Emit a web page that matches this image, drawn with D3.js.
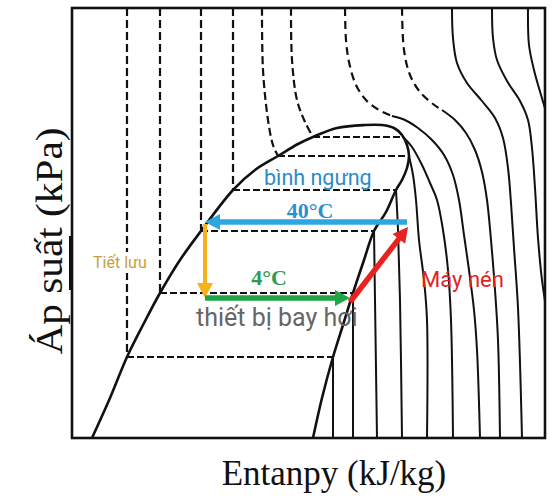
<!DOCTYPE html>
<html><head><meta charset="utf-8">
<script src="https://cdn.jsdelivr.net/npm/d3@7"></script>
<style>html,body{margin:0;padding:0;background:#fff;} svg{display:block}</style>
</head><body><svg id="c" width="552" height="504"></svg>
<script>
// ---- data (relative enthalpy units, relative pressure units) ----
const hDomain = [0, 473];
const pDomain = [0, 430];

const domeLiquid = [[20,0],[38,40],[55,81],[71,113],[88,145],[108,178],[129,207],[161,248],[183,268],[206,282],[226,294],[241,301],[265,310],[293,313],[310,313]];
const domeVapor  = [[310,313],[322,310],[330,303],[335,293],[337,282],[335,270],[330,258],[324,248],[314,226],[302,207],[292,178],[281,145],[271,113],[261,81],[250,40],[241,0]];

// subcooled-liquid part of isotherms (dashed)
const isoLiquid = [
  [[55,430],[55,81]],
  [[88,430],[88,145]],
  [[129,430],[129,207]],
  [[161,430],[161,248]],
  [[190,430],[191,368],[196,318],[201,293],[206,282]],
  [[219,430],[220,378],[225,338],[233,316],[241,301]]
];
// two-phase part of isotherms: [hLiquid, hVapor, p]
const isoTwoPhase = [[55,261,81],[88,281,145],[129,302,207],[161,324,248],[206,337,282],[241,331,301]];
// superheated part (solid)
const isoVapor = [
  [[261,81],[261,0]],
  [[281,145],[281,0]],
  [[302,207],[303,138],[305,0]],
  [[324,248],[326,208],[328,138],[330,0]],
  [[337,282],[341,263],[344,238],[347,198],[352,158],[355,118],[355,0]],
  [[331,301],[340,291],[350,273],[358,255],[365,238],[371,208],[376,168],[379,118],[381,0]]
];
// supercritical isotherms: dashed part then solid part
const isoSuperDashed = [
  [[273,430],[274,398],[277,376],[284,353],[294,338],[307,328],[320,322]],
  [[330,430],[332,388],[338,363],[348,346],[361,334],[370,328]]
];
const isoSuperSolid = [
  [[320,322],[333,318],[346,310],[360,298],[372,283],[381,263],[387,238],[392,203],[397,168],[402,128],[405,88],[408,0]],
  [[370,328],[383,318],[394,305],[403,288],[410,266],[415,238],[419,198],[423,148],[426,98],[428,0]],
  [[380,430],[381,400],[385,375],[395,355],[410,337],[423,320],[431,300],[436,270],[439,235],[442,190],[446,130],[450,0]],
  [[420,430],[421,400],[425,378],[435,357],[448,337],[456,318],[460,290],[463,250],[466,200],[470,158],[476,118]],
  [[456,430],[457,393],[462,368],[469,343],[476,320]]
];

// refrigeration cycle
const cycleFrom  = [[335,216],[133,214],[133,140],[278,136]];
const cycleTo    = [[133,216],[133,140],[278,140],[336,211]];
const cycleColor = ["#2ea6df","#f5b21c","#1fa548","#e8231f"];

const titleX = "Entanpy (kJ/kg)";
const titleY = "Áp suất (kPa)";
const labelTexts = ["bình ngưng","40°C","4°C","thiết bị bay hơi","Tiết lưu","Máy nén"];

// ---- drawing ----
const svg = d3.select("#c");
const x = d3.scaleLinear().domain(hDomain).range([72,545]);
const y = d3.scaleLinear().domain(pDomain).range([438,8]);

svg.append("defs").append("clipPath").attr("id","clip")
  .append("rect").attr("x",72).attr("y",8).attr("width",473).attr("height",430);

const g = svg.append("g").attr("clip-path","url(#clip)");
const curve = d3.line().x(d=>x(d[0])).y(d=>y(d[1])).curve(d3.curveCatmullRom.alpha(0.5));
const straight = d3.line().x(d=>x(d[0])).y(d=>y(d[1]));

isoLiquid.forEach(pts=>{
  g.append("path").attr("d", pts.length>2?curve(pts):straight(pts))
   .attr("fill","none").attr("stroke","#111").attr("stroke-width",2.2).attr("stroke-dasharray","8,4");
});
isoTwoPhase.forEach(d=>{
  g.append("path").attr("d", straight([[d[0],d[2]],[d[1],d[2]]]))
   .attr("fill","none").attr("stroke","#111").attr("stroke-width",2.2).attr("stroke-dasharray","7,3");
});
isoVapor.forEach(pts=>{
  g.append("path").attr("d", pts.length>2?curve(pts):straight(pts))
   .attr("fill","none").attr("stroke","#111").attr("stroke-width",2);
});
isoSuperDashed.forEach(pts=>{
  g.append("path").attr("d", curve(pts))
   .attr("fill","none").attr("stroke","#111").attr("stroke-width",2.2).attr("stroke-dasharray","8,5");
});
isoSuperSolid.forEach(pts=>{
  g.append("path").attr("d", curve(pts))
   .attr("fill","none").attr("stroke","#111").attr("stroke-width",2);
});
// dome
g.append("path").attr("d", curve(domeLiquid.concat(domeVapor.slice(1))))
 .attr("fill","none").attr("stroke","#111").attr("stroke-width",2.6);

// frame
svg.append("rect").attr("x",72).attr("y",8).attr("width",473).attr("height",430)
  .attr("fill","none").attr("stroke","#111").attr("stroke-width",2.6);
svg.append("rect").attr("x",69).attr("y",236).attr("width",4).attr("height",54).attr("fill","#111");

// labels
const sans = "Roboto, 'Liberation Sans', Arial, sans-serif";
const serif = "'Liberation Serif', 'Times New Roman', serif";
const L = svg.append("g");
L.append("text").attr("x",264).attr("y",185).attr("font-family",sans).attr("font-size",21.5).attr("fill","#2a8bc9").text(labelTexts[0]);
L.append("text").attr("x",310).attr("y",218).attr("text-anchor","middle").attr("font-family",serif).attr("font-weight","bold").attr("font-size",22).attr("fill","#2a8fcf").text(labelTexts[1]);
L.append("text").attr("x",269).attr("y",285).attr("text-anchor","middle").attr("font-family",serif).attr("font-weight","bold").attr("font-size",22).attr("fill","#2e9a52").text(labelTexts[2]);
L.append("text").attr("x",196).attr("y",326).attr("font-family",sans).attr("font-size",25).attr("fill","#666").text(labelTexts[3]);
const tl = L.append("text").attr("x",93).attr("y",268).attr("font-family",sans).attr("font-size",16).attr("fill","#c9a03a").text(labelTexts[4]);
const bb = tl.node().getBBox();
L.insert("rect","text").attr("x",bb.x-2).attr("y",bb.y-1).attr("width",bb.width+4).attr("height",bb.height+2).attr("fill","#fff");
L.append("text").attr("x",421).attr("y",287).attr("font-family",sans).attr("font-size",22).attr("fill","#e02424").text(labelTexts[5]);

// arrows
const A = svg.append("g");
cycleFrom.forEach((f,i)=>{
  const x1=x(f[0]), y1=y(f[1]), x2=x(cycleTo[i][0]), y2=y(cycleTo[i][1]);
  const dx=x2-x1, dy=y2-y1, len=Math.hypot(dx,dy), ux=dx/len, uy=dy/len;
  const hl=15, hw=8;
  const bx=x2-ux*hl, by=y2-uy*hl;
  A.append("line").attr("x1",x1).attr("y1",y1).attr("x2",bx+ux*1).attr("y2",by+uy*1)
    .attr("stroke",cycleColor[i]).attr("stroke-width",i===1?4:5.5);
  A.append("polygon").attr("points",[[x2,y2],[bx-uy*hw,by+ux*hw],[bx+uy*hw,by-ux*hw]].map(p=>p.join(",")).join(" "))
    .attr("fill",cycleColor[i]);
});

// axis titles
svg.append("text").attr("x",334).attr("y",485).attr("text-anchor","middle")
  .attr("font-family",serif).attr("font-size",35).attr("fill","#111").text(titleX);
svg.append("text").attr("transform","translate(62,241) rotate(-90)").attr("text-anchor","middle")
  .attr("font-family",serif).attr("font-size",37).attr("fill","#111")
  .attr("textLength",227).attr("lengthAdjust","spacingAndGlyphs").text(titleY);
</script></body></html>
